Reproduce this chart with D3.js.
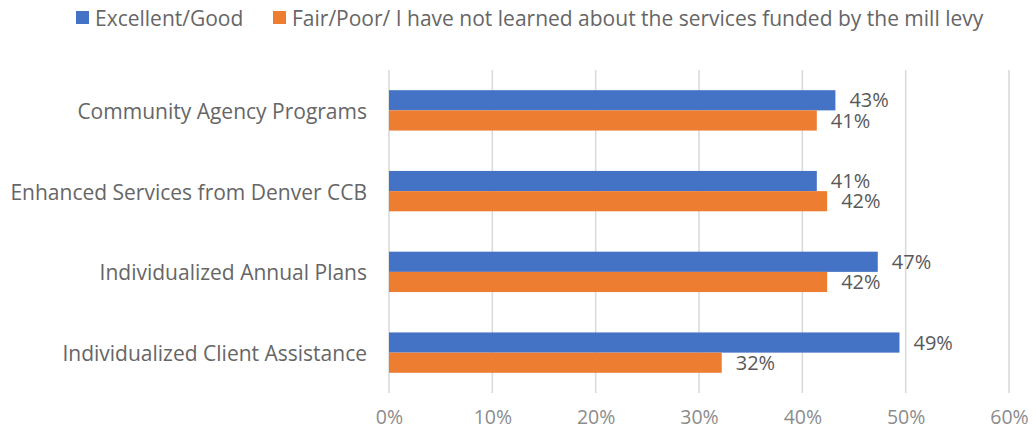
<!DOCTYPE html>
<html>
<head>
<meta charset="utf-8">
<script src="https://cdn.jsdelivr.net/npm/d3@7"></script>
<style>
  body { margin: 0; background: #fff; }
  text { font-family: "Open Sans", sans-serif; }
</style>
</head>
<body>
<div id="chart"></div>
<script>
const categories = [
  "Community Agency Programs",
  "Enhanced Services from Denver CCB",
  "Individualized Annual Plans",
  "Individualized Client Assistance"
];
const seriesNames = [
  "Excellent/Good",
  "Fair/Poor/ I have not learned about the services funded by the mill levy"
];
const excellentGood = [43.2, 41.4, 47.3, 49.4];
const fairPoor = [41.4, 42.4, 42.4, 32.2];
const tickValues = [0, 10, 20, 30, 40, 50, 60];
const colors = ["#4472C4", "#ED7D31"];

const W = 1036, H = 437;
const margin = {top: 70, right: 27, bottom: 44, left: 389};
const width = W - margin.left - margin.right;
const height = H - margin.top - margin.bottom;

const svg = d3.select("#chart")
  .append("svg")
  .attr("width", W)
  .attr("height", H);

const g = svg.append("g")
  .attr("transform", "translate(" + margin.left + "," + margin.top + ")");

const x = d3.scaleLinear().domain([0, 60]).range([0, width]);
const y = d3.scaleBand().domain(categories).range([0, height])
  .paddingInner(0.5).paddingOuter(0.25);
const ySub = d3.scaleBand().domain([0, 1]).range([0, y.bandwidth()]);

// gridlines
g.selectAll(".grid")
  .data(tickValues)
  .enter()
  .append("line")
  .attr("x1", d => x(d))
  .attr("x2", d => x(d))
  .attr("y1", 0)
  .attr("y2", height)
  .attr("stroke", "#d9d9d9")
  .attr("stroke-width", 1.5);

// x axis labels
const xAxis = g.append("g")
  .attr("transform", "translate(0," + height + ")")
  .call(d3.axisBottom(x).tickValues(tickValues).tickSize(0).tickPadding(17)
    .tickFormat(d => d + "%"));
xAxis.select(".domain").remove();
xAxis.selectAll("text")
  .attr("font-size", 19.5)
  .attr("fill", "#8c8c8c")
  .style("font-family", "Open Sans, sans-serif");

// category labels
const yAxis = g.append("g")
  .call(d3.axisLeft(y).tickSize(0).tickPadding(22));
yAxis.select(".domain").remove();
yAxis.selectAll("text")
  .attr("font-size", 21)
  .attr("dy", "0.4em")
  .attr("fill", "#666")
  .style("font-family", "Open Sans, sans-serif");

const rows = categories.map((c, i) => ({cat: c, vals: [excellentGood[i], fairPoor[i]]}));

const groups = g.selectAll(".row")
  .data(rows)
  .enter()
  .append("g")
  .attr("transform", d => "translate(0," + y(d.cat) + ")");

groups.selectAll("rect")
  .data(d => d.vals.map((v, j) => ({v: v, j: j})))
  .enter()
  .append("rect")
  .attr("x", x(0))
  .attr("y", d => ySub(d.j))
  .attr("width", d => x(d.v) - x(0))
  .attr("height", ySub.bandwidth())
  .attr("fill", d => colors[d.j]);

groups.selectAll(".val")
  .data(d => d.vals.map((v, j) => ({v: v, j: j})))
  .enter()
  .append("text")
  .attr("x", d => x(d.v) + 14)
  .attr("y", d => ySub(d.j) + ySub.bandwidth() / 2)
  .attr("dy", "0.36em")
  .attr("font-size", 20)
  .attr("fill", "#595959")
  .text(d => Math.round(d.v) + "%");

// legend
const legendX = [76, 273];
const legend = svg.selectAll(".legend")
  .data(seriesNames)
  .enter()
  .append("g")
  .attr("transform", (d, i) => "translate(" + legendX[i] + ",18)");
legend.append("rect")
  .attr("x", 0).attr("y", -7)
  .attr("width", 13).attr("height", 13)
  .attr("fill", (d, i) => colors[i]);
legend.append("text")
  .attr("x", 19)
  .attr("dy", "0.36em")
  .attr("font-size", 21)
  .attr("fill", "#666")
  .text(d => d);
</script>
</body>
</html>
